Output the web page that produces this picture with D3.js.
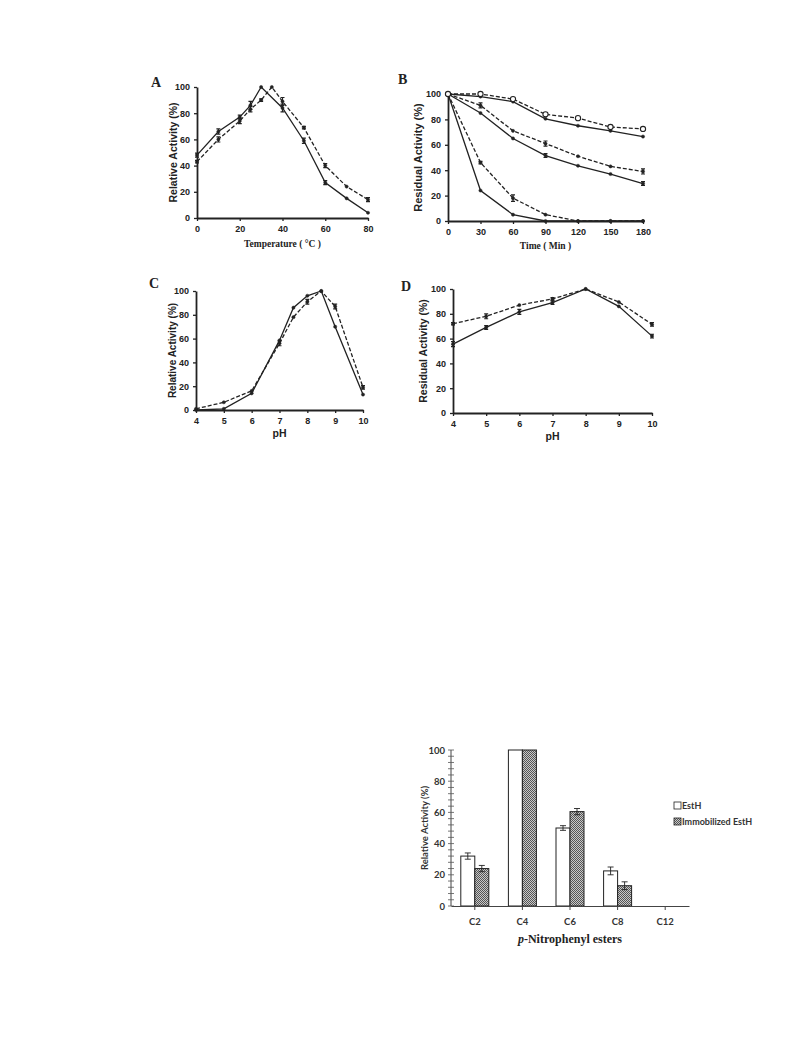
<!DOCTYPE html>
<html><head><meta charset="utf-8">
<script src="https://cdn.jsdelivr.net/npm/d3@7"></script>
<style>body{margin:0;background:#fff}svg{display:block}</style>
</head><body>
<svg id="c" width="793" height="1057"></svg>
<script>
// ---------- DATA ----------
// Panel A: temperature
const tempSolidX = [0,10,20,25,30,40,50,60,70,80];
const tempSolidY = [48,66,77,86,100,84,59,27,15,4];
const tempSolidE = [1.5,2,1.5,3,0,3,2,1.5,0,0];
const tempDashX = [0,10,20,25,30,35,40,50,60,70,80];
const tempDashY = [43,60,74,83,90,100,89,69,40,24,14];
const tempDashE = [1,2,2,2,1,0,3,1,1.5,0,1.5];
const tempTicks = [0,20,40,60,80];

// Panel B: thermostability over time
const timeX = [0,30,60,90,120,150,180];
const timeS1Dash = [100,100,96,84,81,74,72.5];   // open circles
const timeS2Solid = [100,98,94,80.5,75,71,66.5];
const timeS3Dash = [100,91,71,61,51,43,39];
const timeS3E = [0,2,0,2,0,0,2];
const timeS4Solid = [100,85,65,51.5,43.5,37,29.5];
const timeS4E = [0,0,0,1.5,0,0,1.5];
const timeS5Dash = [100,46,18,5,0,0,0];
const timeS5E = [0,1,2.5,0,0,0,0];
const timeS6Solid = [100,24,5,0,0,0,0];
const timeTicks = [0,30,60,90,120,150,180];

// Panel C: pH optimum
const phCX = [4,5,6,7,7.5,8,8.5,9,10];
const phCSolid = [0,1,14,58.5,86,96,100,70,13];
const phCDash = [1,6.5,16,56,78,91,100,87,19];
const phCDashE = [0,0,0,2,0,2,0,2,1.5];
const phTicks = [4,5,6,7,8,9,10];

// Panel D: pH stability
const phDX = [4,5,6,7,8,9,10];
const phDSolid = [55.5,69,81.5,89,100,86,62];
const phDSolidE = [2,1.5,2,1.5,0,0,1.5];
const phDDash = [72,78,87,92,100,89.5,71.5];
const phDDashE = [1,2,0,1,0,0,1.5];

const yTicks = [0,20,40,60,80,100];

// Bar chart: substrate specificity
const esters = ["C2","C4","C6","C8","C12"];
const estH = [32,100,50,22.5,0];
const estHErr = [2,0,1.5,2.5,0];
const immob = [24,100,60.5,13,0];
const immobErr = [2,0,2,2.5,0];
const legendLabels = ["EstH","Immobilized EstH"];

// ---------- DRAW ----------
const svg = d3.select("#c");
const defs = svg.append("defs");
const pat = defs.append("pattern").attr("id","chk").attr("patternUnits","userSpaceOnUse")
  .attr("width",2).attr("height",2);
pat.append("rect").attr("width",2).attr("height",2).attr("fill","#c8c8c8");
pat.append("rect").attr("width",1).attr("height",1).attr("fill","#555");
pat.append("rect").attr("x",1).attr("y",1).attr("width",1).attr("height",1).attr("fill","#555");

const sans = "Liberation Sans, Arial, sans-serif";
const serif = "Liberation Serif, Times New Roman, serif";

function panel(o){
  const g = svg.append("g");
  const x = d3.scaleLinear().domain(o.xd).range(o.xr);
  const y = d3.scaleLinear().domain([0,100]).range(o.yr);
  const ax = g.append("g").attr("transform",`translate(0,${o.yr[0]})`)
    .call(d3.axisBottom(x).tickValues(o.xt).tickSize(3).tickSizeOuter(0).tickFormat(d3.format("d")));
  const ay = g.append("g").attr("transform",`translate(${o.xr[0]},0)`)
    .call(d3.axisLeft(y).tickValues(yTicks).tickSize(3).tickSizeOuter(0));
  [ax,ay].forEach(a=>{
    a.select(".domain").attr("stroke","#222").attr("stroke-width",1.8);
    a.selectAll(".tick line").attr("stroke","#222").attr("stroke-width",1.3);
    a.selectAll("text").attr("font-family",sans).attr("font-weight","bold").attr("font-size",9).attr("fill","#222");
  });
  ax.selectAll("text").attr("dy","0.85em");
  ay.selectAll("text").attr("dx","-0.1em");
  o.series.forEach(s=>{
    const pts = s.x.map((xv,i)=>({x:xv,y:s.y[i],e:s.e?s.e[i]:0}));
    g.append("path").datum(pts)
      .attr("d",d3.line().x(d=>x(d.x)).y(d=>y(d.y)))
      .attr("fill","none").attr("stroke","#222").attr("stroke-width",1.3)
      .attr("stroke-dasharray",s.dash?"4,2":null);
    pts.forEach(d=>{
      if(d.e>0){
        const x0=x(d.x);
        g.append("path").attr("d",`M${x0},${y(d.y-d.e)}V${y(d.y+d.e)}M${x0-2},${y(d.y-d.e)}H${x0+2}M${x0-2},${y(d.y+d.e)}H${x0+2}`)
          .attr("stroke","#222").attr("stroke-width",1.2).attr("fill","none");
      }
    });
    g.selectAll(null).data(pts).enter().append("circle")
      .attr("cx",d=>x(d.x)).attr("cy",d=>y(d.y))
      .attr("r",s.open?2.6:1.6)
      .attr("fill",s.open?"#fff":"#222").attr("stroke","#222").attr("stroke-width",s.open?1.1:0.5);
  });
  svg.append("text").attr("x",o.letter[1]).attr("y",o.letter[2]).text(o.letter[0])
    .attr("font-family",serif).attr("font-weight","bold").attr("font-size",14).attr("fill","#222");
  svg.append("text").attr("transform",`translate(${o.ytitle[0]},${(o.yr[0]+o.yr[1])/2}) rotate(-90)`)
    .attr("text-anchor","middle").attr("dy","0.35em").text(o.ytitle[1])
    .attr("font-family",sans).attr("font-weight","bold").attr("font-size",o.ytitle[2]).attr("fill","#222");
  svg.append("text").attr("x",(o.xr[0]+o.xr[1])/2).attr("y",o.xtitle[0]).attr("text-anchor","middle")
    .attr("dy","0.35em").text(o.xtitle[1])
    .attr("font-family",o.xtitle[2]).attr("font-weight","bold").attr("font-size",o.xtitle[3]).attr("fill","#222");
}

panel({xd:[0,80],xr:[197,368],yr:[218,87],xt:tempTicks,letter:["A",151,87],
  ytitle:[173,"Relative Activity (%)",10.5],xtitle:[244,"Temperature ( °C )",serif,9.5],
  series:[{x:tempSolidX,y:tempSolidY,e:tempSolidE},{x:tempDashX,y:tempDashY,e:tempDashE,dash:true}]});

panel({xd:[0,180],xr:[448,643],yr:[221,94],xt:timeTicks,letter:["B",398,84],
  ytitle:[418,"Residual Activity (%)",11],xtitle:[246,"Time ( Min )",serif,9.5],
  series:[
    {x:timeX,y:timeS2Solid},
    {x:timeX,y:timeS4Solid,e:timeS4E},
    {x:timeX,y:timeS6Solid},
    {x:timeX,y:timeS3Dash,e:timeS3E,dash:true},
    {x:timeX,y:timeS5Dash,e:timeS5E,dash:true},
    {x:timeX,y:timeS1Dash,dash:true,open:true}
  ]});

panel({xd:[4,10],xr:[196,363],yr:[410,291],xt:phTicks,letter:["C",149,288],
  ytitle:[172,"Relative Activity (%)",10],xtitle:[433,"pH",sans,10.5],
  series:[{x:phCX,y:phCSolid},{x:phCX,y:phCDash,e:phCDashE,dash:true}]});

panel({xd:[4,10],xr:[453,652],yr:[413,289],xt:phTicks,letter:["D",401,291],
  ytitle:[423,"Residual Activity (%)",10.5],xtitle:[436,"pH",sans,10.5],
  series:[{x:phDX,y:phDSolid,e:phDSolidE},{x:phDX,y:phDDash,e:phDDashE,dash:true}]});

// ---------- BAR CHART ----------
(function(){
  const g = svg.append("g");
  const x = d3.scaleBand().domain(esters).range([451,689]);
  const y = d3.scaleLinear().domain([0,100]).range([906,750]);
  const bw = 14;
  const cal = "Lato, Open Sans, sans-serif";
  g.append("line").attr("x1",451).attr("x2",451).attr("y1",y(0)).attr("y2",y(100)).attr("stroke","#444").attr("stroke-width",1);
  const minor = d3.range(0,101,4);
  g.selectAll(null).data(minor).enter().append("line")
    .attr("x1",448).attr("x2",454).attr("y1",d=>y(d)).attr("y2",d=>y(d)).attr("stroke","#555").attr("stroke-width",0.8);
  const ay = g.append("g").attr("transform","translate(451,0)")
    .call(d3.axisLeft(y).tickValues(yTicks).tickSize(0).tickPadding(6));
  ay.select(".domain").remove();
  ay.selectAll("text").attr("font-family",cal).attr("font-weight","bold").attr("font-size",9.5).attr("fill","#333");
  const data = esters.map((c,i)=>({c,a:estH[i],ae:estHErr[i],b:immob[i],be:immobErr[i]}));
  data.forEach(d=>{
    const cx = x(d.c)+x.bandwidth()/2;
    if(d.a>0) g.append("rect").attr("x",cx-bw).attr("y",y(d.a)).attr("width",bw).attr("height",y(0)-y(d.a))
      .attr("fill","#fff").attr("stroke","#222").attr("stroke-width",1);
    if(d.b>0) g.append("rect").attr("x",cx).attr("y",y(d.b)).attr("width",bw).attr("height",y(0)-y(d.b))
      .attr("fill","url(#chk)").attr("stroke","#222").attr("stroke-width",1);
    [[cx-bw/2,d.a,d.ae],[cx+bw/2,d.b,d.be]].forEach(([ex,v,e])=>{
      if(e>0) g.append("path").attr("d",`M${ex},${y(v-e)}V${y(v+e)}M${ex-3},${y(v-e)}H${ex+3}M${ex-3},${y(v+e)}H${ex+3}`)
        .attr("stroke","#222").attr("stroke-width",0.9).attr("fill","none");
    });
  });
  const ax = g.append("g").attr("transform","translate(0,906)")
    .call(d3.axisBottom(x).tickSize(4).tickSizeOuter(0).tickPadding(8));
  ax.select(".domain").attr("stroke","#444").attr("stroke-width",1);
  ax.selectAll(".tick line").attr("stroke","#444");
  ax.selectAll("text").attr("font-family",cal).attr("font-weight","bold").attr("font-size",9.5).attr("fill","#333");
  g.append("text").attr("transform",`translate(425,828) rotate(-90)`).attr("text-anchor","middle").attr("dy","0.35em")
    .attr("font-family",cal).attr("font-weight","bold").attr("font-size",9.5).attr("fill","#333").text("Relative Activity (%)");
  const t = g.append("text").attr("x",570).attr("y",939).attr("text-anchor","middle").attr("dy","0.35em")
    .attr("font-family","Liberation Serif, Cambria, serif").attr("font-weight","bold").attr("font-size",12).attr("fill","#222");
  t.append("tspan").attr("font-style","italic").text("p");
  t.append("tspan").text("-Nitrophenyl esters");
  const lg = g.append("g");
  legendLabels.forEach((l,i)=>{
    const ly = 806 + i*16;
    lg.append("rect").attr("x",674).attr("y",ly-4).attr("width",7).attr("height",7)
      .attr("fill",i?"url(#chk)":"#fff").attr("stroke","#222").attr("stroke-width",0.8);
    lg.append("text").attr("x",682).attr("y",ly).attr("dy","0.35em").text(l)
      .attr("font-family",cal).attr("font-weight","bold").attr("font-size",9).attr("fill","#333");
  });
})();
</script>
</body></html>
